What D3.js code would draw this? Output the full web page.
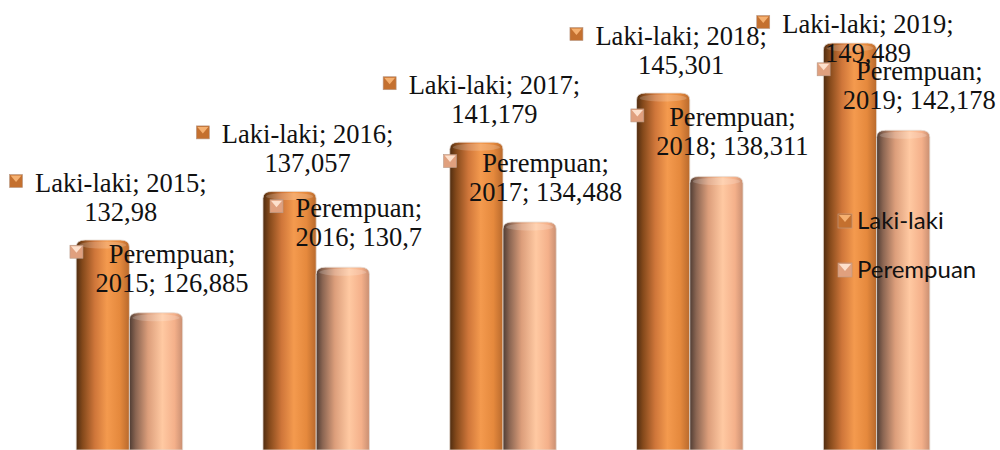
<!DOCTYPE html>
<html>
<head>
<meta charset="utf-8">
<script src="https://cdn.jsdelivr.net/npm/d3@7"></script>
<style>
  body { margin: 0; background: #fff; }
  svg { display: block; }
</style>
</head>
<body>
<div id="chart"></div>
<script>
// data
const years = ["2015", "2016", "2017", "2018", "2019"];
const seriesNames = ["Laki-laki", "Perempuan"];
const lakiLaki = [132.98, 137.057, 141.179, 145.301, 149.489];
const perempuan = [126.885, 130.7, 134.488, 138.311, 142.178];

const width = 1000, height = 450;

const svg = d3.select("#chart")
    .append("svg")
    .attr("width", width)
    .attr("height", height);

const rows = years.map((yr, i) => ({ year: yr, values: [lakiLaki[i], perempuan[i]] }));

// scales
const x0 = d3.scaleBand()
    .domain(years)
    .range([36, 970])
    .paddingInner(0.43)
    .paddingOuter(0.215);

const x1 = d3.scaleBand()
    .domain(seriesNames)
    .range([0, x0.bandwidth()]);

// plot area is cropped at the bottom in the picture
const y = d3.scaleLinear()
    .domain([115.38, 153.1])
    .range([height, 0]);

const fmt = d3.formatLocale({ decimal: ",", thousands: ".", grouping: [3], currency: ["", ""] }).format(".3~f");

// cylinder gradients
const defs = svg.append("defs");
const grads = {
    "Laki-laki": [[0, "#4f2c10"], [0.12, "#84491b"], [0.35, "#cf763a"], [0.58, "#f49a4e"], [0.82, "#e5893d"], [1, "#b8692c"]],
    "Perempuan": [[0, "#4f3c33"], [0.12, "#8a6552"], [0.35, "#dc9e7b"], [0.62, "#ffc9a2"], [0.85, "#f4b08a"], [1, "#c98f72"]]
};
const gid = { "Laki-laki": "gL", "Perempuan": "gP" };
seriesNames.forEach(s => {
    const g = defs.append("linearGradient").attr("id", gid[s])
        .attr("x1", "0%").attr("x2", "100%").attr("y1", "0%").attr("y2", "0%");
    grads[s].forEach(st => g.append("stop").attr("offset", st[0]).attr("stop-color", st[1]));
});
const markColor = { "Laki-laki": ["#c4702f", "#f5b070"], "Perempuan": ["#e0a07e", "#fde0cc"] };

// rounded-top bar path
function cylPath(x, top, w, bottom) {
    const rx = 9, ry = 7;
    return `M${x},${bottom} L${x},${top + ry} Q${x},${top} ${x + rx},${top}` +
        ` L${x + w - rx},${top} Q${x + w},${top} ${x + w},${top + ry} L${x + w},${bottom} Z`;
}

const groups = svg.append("g")
    .selectAll("g")
    .data(rows)
    .join("g")
    .attr("transform", d => `translate(${x0(d.year)},0)`);

groups.selectAll("path.bar")
    .data(d => d.values.map((v, i) => ({ key: seriesNames[i], value: v, year: d.year })))
    .join("path")
    .attr("class", "bar")
    .attr("d", d => cylPath(x1(d.key), y(d.value), x1.bandwidth(), height))
    .attr("fill", d => `url(#${gid[d.key]})`)
    .attr("stroke", "#e6dcd4")
    .attr("stroke-width", 0.8);

// soft highlight on the cap
groups.selectAll("ellipse.cap")
    .data(d => d.values.map((v, i) => ({ key: seriesNames[i], value: v })))
    .join("ellipse")
    .attr("class", "cap")
    .attr("cx", d => x1(d.key) + x1.bandwidth() / 2)
    .attr("cy", d => y(d.value) + 5)
    .attr("rx", x1.bandwidth() / 2 - 3)
    .attr("ry", 3.5)
    .attr("fill", "#fff")
    .attr("opacity", 0.18);

function marker(g, cx, cy, key, size) {
    const h = size / 2;
    g.append("rect")
        .attr("x", cx - h).attr("y", cy - h)
        .attr("width", size).attr("height", size)
        .attr("fill", markColor[key][0])
        .attr("stroke", "#b89a88").attr("stroke-width", 0.6);
    g.append("path")
        .attr("d", `M${cx - h + 1},${cy - h + 1} L${cx + h - 1},${cy - h + 1} L${cx},${cy + 1} Z`)
        .attr("fill", markColor[key][1]);
}

// data labels (greedy word wrap like the original)
const labelFont = 26.5, lineGap = 29, wrapW = 185;
const serif = '"Liberation Serif", "Times New Roman", serif';
const labels = svg.append("g")
    .attr("fill", "#111");

const measure = labels.append("text")
    .style("font-family", serif).style("font-size", labelFont + "px")
    .attr("x", -999).attr("y", -999);
function textW(s) { measure.text(s); return measure.node().getComputedTextLength(); }

const offs = { "Laki-laki": [18, -19], "Perempuan": [16, -21] };

rows.forEach(r => {
    r.values.forEach((v, i) => {
        const key = seriesNames[i];
        const words = `${key}; ${r.year}; ${fmt(v)}`.split(" ");
        const lines = [];
        let cur = "";
        words.forEach(w => {
            const t = cur ? cur + " " + w : w;
            if (cur && textW(t) > wrapW) { lines.push(cur); cur = w; } else cur = t;
        });
        lines.push(cur);

        const cx = x0(r.year) + x1(key) + x1.bandwidth() / 2 + offs[key][0];
        let base1 = y(v) + offs[key][1] - lineGap * (lines.length - 1);
        base1 = Math.max(base1, 33);

        const t = labels.append("text")
            .style("font-family", serif)
            .style("font-size", labelFont + "px")
            .attr("text-anchor", "middle");
        lines.forEach((ln, j) => {
            t.append("tspan").attr("x", cx).attr("y", base1 + j * lineGap).text(ln);
        });
        const maxW = d3.max(lines, textW);
        marker(labels, cx - maxW / 2 - 19, base1 - 11, key, 13);
    });
});
measure.remove();

// legend
const legend = svg.append("g")
    .style("font-family", "Lato, 'Open Sans', sans-serif")
    .style("font-size", "24px")
    .attr("fill", "#111");
seriesNames.forEach((s, i) => {
    const ly = 221 + i * 49;
    marker(legend, 845, ly, s, 14);
    legend.append("text")
        .attr("x", 857)
        .attr("y", ly + 8)
        .text(s);
});
</script>
</body>
</html>
